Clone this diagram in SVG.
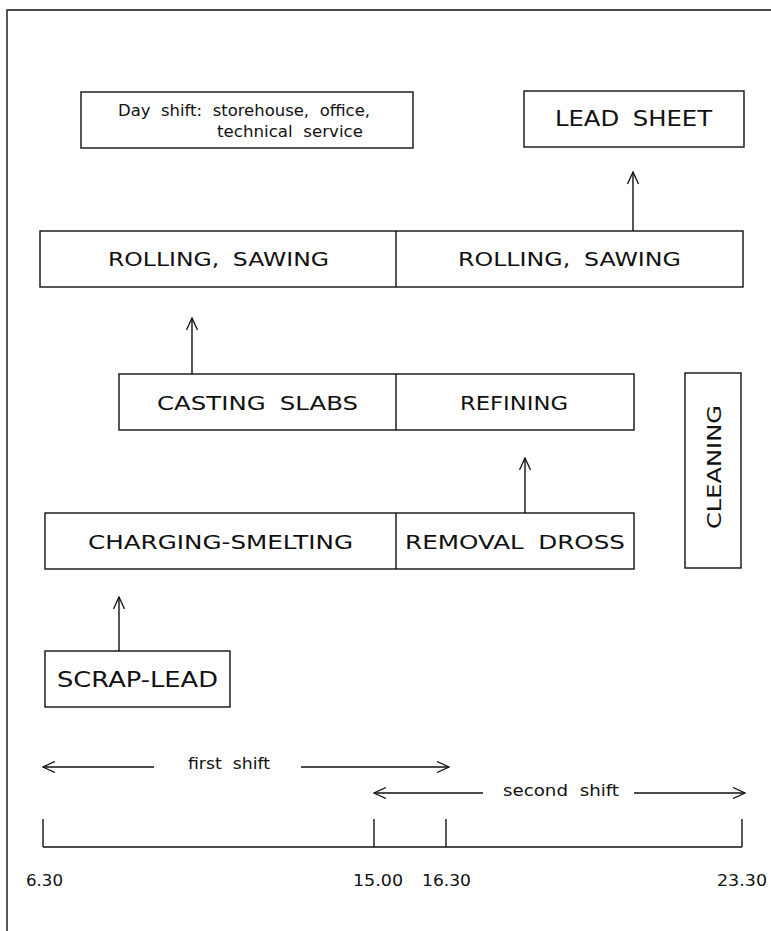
<svg xmlns="http://www.w3.org/2000/svg" width="771" height="931" viewBox="0 0 771 931">
<defs>
<marker id="ah" viewBox="0 0 14 12" refX="13" refY="6" markerWidth="14" markerHeight="12" markerUnits="userSpaceOnUse" orient="auto">
<polyline points="1,0.5 13,6 1,11.5" fill="none" stroke="#111" stroke-width="1.3"/>
</marker>
</defs>
<style>
rect { fill: none; stroke: #111; stroke-width: 1.4; }
line { stroke: #111; stroke-width: 1.4; }
text { font-family: "DejaVu Sans", "Liberation Sans", Arial, sans-serif; fill: #111; word-spacing: 5px; }
.big { font-size: 19px; }
.lg { font-size: 20.5px; }
.sm { font-size: 15.5px; }
.num { font-size: 15px; }
</style>
<rect width="771" height="931" fill="#fff" style="stroke:none"/>
<g id="frame">
<polyline points="7,931 7,10 771,10" fill="none" stroke="#111" stroke-width="1.4"/>
</g>
<g id="dayshift">
<rect x="81" y="92" width="332" height="56"/>
<text class="sm" x="118" y="116" textLength="252" lengthAdjust="spacingAndGlyphs">Day shift: storehouse, office,</text>
<text class="sm" x="217" y="137" textLength="146" lengthAdjust="spacingAndGlyphs">technical service</text>
</g>
<g id="leadsheet">
<rect x="524" y="91" width="220" height="56"/>
<text class="lg" x="555" y="126" textLength="157" lengthAdjust="spacingAndGlyphs">LEAD SHEET</text>
</g>
<g id="rolling">
<rect x="40" y="231" width="703" height="56"/>
<line x1="396" y1="231" x2="396" y2="287"/>
<text class="big" x="108" y="266" textLength="221" lengthAdjust="spacingAndGlyphs">ROLLING, SAWING</text>
<text class="big" x="458" y="266" textLength="223" lengthAdjust="spacingAndGlyphs">ROLLING, SAWING</text>
</g>
<g id="casting">
<rect x="119" y="374" width="515" height="56"/>
<line x1="396" y1="374" x2="396" y2="430"/>
<text class="big" x="157" y="410" textLength="201" lengthAdjust="spacingAndGlyphs">CASTING SLABS</text>
<text class="big" x="460" y="410" textLength="108" lengthAdjust="spacingAndGlyphs">REFINING</text>
</g>
<g id="cleaning">
<rect x="685" y="373" width="56" height="195"/>
<text class="big" transform="translate(721,529) rotate(-90)" x="0" y="0" textLength="124" lengthAdjust="spacingAndGlyphs">CLEANING</text>
</g>
<g id="charging">
<rect x="45" y="513" width="589" height="56"/>
<line x1="396" y1="513" x2="396" y2="569"/>
<text class="big" x="88" y="549" textLength="265" lengthAdjust="spacingAndGlyphs">CHARGING-SMELTING</text>
<text class="big" x="405" y="549" textLength="220" lengthAdjust="spacingAndGlyphs">REMOVAL DROSS</text>
</g>
<g id="scraplead">
<rect x="45" y="651" width="185" height="56"/>
<text class="lg" x="57" y="687" textLength="161" lengthAdjust="spacingAndGlyphs">SCRAP-LEAD</text>
</g>
<g id="connectors">
<line x1="633" y1="231" x2="633" y2="172" marker-end="url(#ah)"/>
<line x1="192" y1="374" x2="192" y2="318" marker-end="url(#ah)"/>
<line x1="525" y1="513" x2="525" y2="458" marker-end="url(#ah)"/>
<line x1="119" y1="651" x2="119" y2="597" marker-end="url(#ah)"/>
</g>
<g id="timeline">
<line x1="154" y1="767" x2="43" y2="767" marker-end="url(#ah)"/>
<text class="sm" x="188" y="769" textLength="82" lengthAdjust="spacingAndGlyphs">first shift</text>
<line x1="301" y1="767" x2="449" y2="767" marker-end="url(#ah)"/>
<line x1="483" y1="793" x2="374" y2="793" marker-end="url(#ah)"/>
<text class="sm" x="503" y="796" textLength="116" lengthAdjust="spacingAndGlyphs">second shift</text>
<line x1="634" y1="793" x2="745" y2="793" marker-end="url(#ah)"/>
<line x1="43" y1="847" x2="742" y2="847"/>
<line x1="43" y1="819" x2="43" y2="847"/>
<line x1="374" y1="819" x2="374" y2="847"/>
<line x1="446" y1="819" x2="446" y2="847"/>
<line x1="742" y1="819" x2="742" y2="847"/>
<text class="num" x="26" y="886" textLength="37" lengthAdjust="spacingAndGlyphs">6.30</text>
<text class="num" x="353" y="886" textLength="50" lengthAdjust="spacingAndGlyphs">15.00</text>
<text class="num" x="422" y="886" textLength="49" lengthAdjust="spacingAndGlyphs">16.30</text>
<text class="num" x="717" y="886" textLength="50" lengthAdjust="spacingAndGlyphs">23.30</text>
</g>
</svg>
